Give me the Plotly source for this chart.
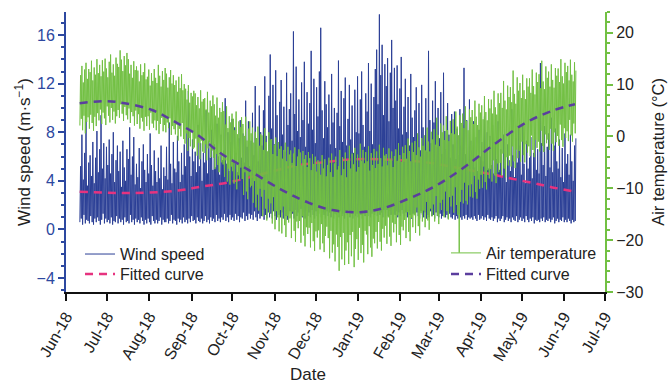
import pandas as pd
import plotly.graph_objects as go

# ---------------- data ----------------
# Wind speed (m/s): alternating low/high readings every 12 h from 2018-06-11, one line per week
wind_text = """
0.6 5.2 0.9 7.8 0.4 4.1 1.2 6.3 0.5 8.9 0.8 3.6 0.7 5.5
0.5 6.1 1.1 4.4 0.6 7.2 0.4 3.8 0.9 5.9 0.6 8.1 1.0 4.7
0.7 6.6 0.4 9.4 0.8 5.0 1.3 7.1 0.5 4.2 0.9 6.8 0.6 5.3
0.8 7.4 0.5 4.6 1.0 6.2 0.4 8.0 0.7 3.9 0.6 5.7 1.1 6.9
0.5 4.8 0.9 6.4 0.6 3.5 0.8 7.3 0.4 5.1 1.0 4.0 0.6 6.6
0.7 5.8 0.5 8.4 1.2 4.5 0.6 6.0 0.8 7.6 0.4 3.7 0.9 5.4
0.6 4.3 0.8 6.7 0.5 3.4 1.0 5.6 0.7 7.0 0.4 4.9 0.8 3.9
0.5 6.2 0.9 4.6 0.6 7.9 0.4 5.3 1.1 3.6 0.7 6.5 0.5 4.8
0.8 3.9 0.5 5.9 0.7 4.2 1.0 6.9 0.4 3.3 0.8 5.1 0.6 4.4
0.6 6.8 0.9 4.1 0.5 8.8 0.7 5.4 1.2 3.8 0.5 7.2 0.8 5.0
0.7 4.7 0.4 7.7 0.9 5.6 0.6 3.9 0.8 6.3 0.5 4.5 1.0 7.0
0.6 5.2 0.8 8.1 0.5 11.4 0.9 6.0 0.6 4.4 1.1 7.4 0.7 5.6
0.8 6.4 0.5 4.7 1.0 8.6 0.7 5.2 0.6 7.1 0.9 4.0 0.5 6.3
0.7 5.5 1.1 9.8 0.6 4.6 0.8 7.3 0.5 5.9 1.0 8.2 0.7 4.9
0.9 7.0 0.6 5.1 1.2 8.7 0.7 6.0 0.9 4.5 0.6 7.8 1.0 5.7
0.8 6.5 1.3 10.8 0.7 5.4 1.0 8.0 0.6 4.8 1.2 7.2 0.8 9.1
1.0 5.6 0.7 8.4 1.3 6.3 0.8 4.7 1.1 7.5 0.6 9.0 1.0 5.9
0.9 7.9 1.4 5.5 0.7 10.6 1.1 6.8 0.8 8.9 1.3 5.2 0.9 7.3
1.2 9.6 0.8 6.1 1.5 11.8 1.0 7.4 0.7 5.6 1.3 10.2 0.9 8.0
1.1 6.9 1.6 9.8 0.8 12.6 1.2 7.7 0.9 5.8 1.4 11.0 1.0 14.4
1.3 8.3 0.9 11.9 1.5 7.0 1.1 13.1 0.8 9.4 1.6 6.6 1.2 10.5
1.0 12.3 1.4 7.8 0.9 10.1 1.7 6.4 1.1 12.9 0.8 8.6 1.3 9.9
1.5 11.2 1.0 7.3 1.3 16.3 0.9 9.5 1.6 13.4 1.1 8.1 1.4 10.7
1.2 7.6 1.7 12.1 1.0 9.0 1.4 13.8 0.9 6.8 1.5 11.3 1.1 8.7
1.4 10.4 1.0 14.7 1.6 8.2 1.2 12.4 0.9 7.1 1.5 11.7 1.1 9.3
1.3 13.0 1.7 16.6 1.0 9.8 1.4 7.5 1.2 12.2 0.9 10.3 1.5 8.4
1.1 11.1 1.4 7.0 1.0 12.8 1.6 8.8 0.9 10.0 1.3 6.7 1.2 9.6
1.4 13.9 1.0 8.5 1.5 11.4 1.1 7.2 1.3 10.8 0.9 12.5 1.5 6.9
1.2 9.1 1.6 11.9 1.0 7.4 1.3 10.2 0.9 6.3 1.4 11.5 1.1 8.0
1.3 12.6 1.0 7.9 1.5 10.7 1.2 13.0 0.9 8.6 1.6 6.8 1.1 11.2
1.4 9.7 1.1 13.7 1.6 8.1 1.0 12.0 1.3 7.0 1.5 10.9 1.2 13.2
1.5 14.8 1.1 10.3 1.7 17.7 1.2 12.7 1.4 15.2 1.0 9.4 1.6 13.6
1.3 11.8 1.6 14.1 1.1 8.9 1.5 12.9 1.2 15.6 1.7 10.0 1.3 13.3
1.2 10.6 1.5 13.5 1.0 8.3 1.4 11.6 1.1 14.2 1.6 7.8 1.3 10.1
1.1 12.4 1.4 8.0 1.0 10.9 1.5 6.9 1.2 12.8 0.9 9.2 1.3 7.6
1.3 9.8 1.0 11.7 1.4 7.3 1.1 10.4 0.9 6.5 1.5 11.9 1.2 8.4
1.0 7.7 1.4 10.8 0.9 6.4 1.2 14.7 1.0 9.0 1.5 7.1 1.1 10.6
1.2 8.8 0.9 12.2 1.4 6.8 1.1 10.0 1.0 7.5 1.3 11.3 0.9 6.2
1.1 12.9 1.4 8.1 1.0 6.6 1.2 10.4 0.9 7.8 1.3 5.9 1.0 9.5
0.9 7.0 1.2 9.7 0.8 5.8 1.1 8.3 0.9 6.1 1.3 9.9 1.0 6.9
0.8 8.6 1.1 13.3 0.9 6.2 1.2 9.0 0.8 5.4 1.0 10.7 0.9 7.3
1.0 6.5 0.8 8.9 1.1 5.1 0.9 7.6 0.7 4.8 1.2 8.2 0.8 6.0
0.9 7.2 1.1 5.6 0.8 9.3 1.0 6.4 0.7 8.0 1.2 5.0 0.9 7.7
0.8 5.3 1.0 8.6 0.7 4.6 0.9 7.1 1.1 5.8 0.6 8.9 0.9 4.9
0.7 6.6 0.9 4.4 1.1 7.8 0.6 5.2 0.8 3.9 1.0 7.0 0.7 5.7
0.9 4.8 0.6 9.9 1.0 6.1 0.8 4.3 0.7 7.5 1.1 5.5 0.6 8.3
0.8 6.9 1.0 4.5 0.7 8.7 0.9 5.4 0.6 3.8 1.1 7.3 0.8 5.0
0.6 5.9 0.9 7.6 0.7 4.2 1.0 6.3 0.5 8.0 0.8 4.9 0.7 6.6
0.8 4.6 0.6 13.7 0.9 7.1 0.7 5.3 1.0 8.5 0.6 4.4 0.8 6.8
0.7 7.9 0.9 5.1 0.6 9.2 0.8 4.7 1.0 6.9 0.5 8.3 0.7 5.6
0.9 5.0 0.6 7.4 0.8 4.3 0.7 6.7 1.0 3.9 0.6 7.9 0.8 5.4
0.6 6.2 0.9 4.5 0.7 7.8 0.5 5.6 0.8 4.0 0.6 6.9 0.7 7.5
"""

# Air temperature (deg C): alternating daily min/max every 12 h from 2018-06-11, one line per week
temp_text = """
2.1 11.8 3.4 13.6 1.2 10.4 4.0 12.9 0.6 14.2 2.8 11.1 3.7 13.0
1.5 12.4 4.2 14.6 2.6 10.8 1.1 13.3 3.8 11.9 2.0 14.9 4.5 12.2
3.1 13.8 5.2 11.6 2.4 14.7 4.6 12.5 3.5 15.0 2.2 13.1 5.8 11.4
4.0 14.4 2.7 15.8 5.5 12.3 3.2 13.9 4.8 11.7 2.5 15.2 3.9 14.0
5.1 13.4 3.6 16.6 6.2 14.8 4.4 12.6 3.0 15.5 5.7 13.7 4.1 16.1
3.3 14.9 5.4 12.1 2.6 13.8 4.7 11.3 3.9 14.5 2.1 12.8 5.0 13.5
2.4 12.7 4.3 10.6 1.5 13.9 3.6 11.8 2.9 12.4 1.1 14.1 3.8 11.0
2.0 11.5 3.9 12.9 1.3 9.8 4.6 12.2 2.5 10.7 1.7 13.0 3.1 11.3
1.2 10.3 3.0 13.8 0.5 11.7 2.4 9.6 3.6 12.6 1.0 10.9 2.2 13.2
0.8 12.1 2.7 9.4 1.6 11.4 3.5 12.8 0.3 10.2 2.0 11.8 1.4 9.9
0.4 10.8 2.3 8.6 -0.8 11.5 1.5 9.3 0.0 12.0 2.6 8.9 -0.5 10.1
-1.4 9.2 0.6 7.1 -2.8 9.9 -0.3 6.5 -1.9 8.4 0.9 7.7 -2.4 8.8
-2.1 8.3 -0.4 6.0 -3.7 7.6 -1.2 5.4 -4.4 8.9 -0.8 6.7 -2.9 7.2
-3.2 7.4 -1.5 5.2 -4.6 8.6 -2.3 4.6 -1.1 6.9 -4.0 5.8 -2.7 7.9
-4.1 6.2 -6.3 4.0 -3.4 7.5 -5.5 3.6 -6.9 5.5 -3.8 4.7 -5.0 6.6
-5.4 4.9 -7.8 2.3 -4.6 5.8 -8.7 1.6 -6.2 3.9 -9.3 2.7 -5.8 4.4
-6.7 3.4 -9.1 1.2 -5.3 4.8 -10.2 0.4 -7.5 2.9 -8.4 1.8 -6.0 3.7
-8.2 2.4 -11.3 0.1 -6.9 3.8 -10.6 -0.8 -12.1 1.5 -7.6 2.9 -9.8 0.6
-9.5 1.7 -12.8 -1.2 -8.6 0.9 -13.7 -0.3 -11.2 1.9 -14.3 -1.8 -10.1 0.5
-11.6 0.2 -15.4 -2.6 -10.3 1.6 -13.9 -1.1 -16.2 -2.9 -12.0 0.8 -14.7 -0.6
-12.9 -0.5 -16.8 -3.4 -11.7 -1.6 -17.9 -0.2 -14.4 -3.8 -15.6 -1.1 -18.3 -2.4
-14.2 -1.9 -18.7 -4.3 -13.5 -2.6 -17.1 -1.2 -19.4 -4.8 -15.3 -2.0 -16.6 -3.5
-15.8 -2.7 -19.6 -5.1 -14.5 -3.3 -18.2 -2.1 -20.3 -5.7 -16.4 -3.9 -17.7 -2.5
-16.3 -3.1 -20.5 -5.6 -15.4 -2.8 -19.1 -4.4 -21.2 -3.6 -17.5 -5.9 -18.8 -3.0
-17.6 -4.2 -21.4 -6.5 -16.7 -3.4 -20.2 -5.3 -22.1 -3.9 -18.3 -6.8 -19.5 -4.6
-18.1 -5.0 -21.8 -7.4 -16.9 -3.6 -20.6 -6.2 -22.3 -4.4 -19.2 -7.7 -17.4 -5.5
-19.6 -4.1 -23.5 -6.9 -18.2 -3.3 -22.4 -7.8 -20.8 -5.2 -24.1 -3.9 -18.9 -6.4
-21.3 -5.7 -25.9 -2.6 -19.4 -7.5 -23.7 -4.0 -18.6 -6.3 -24.8 -3.1 -22.0 -7.9
-20.4 -4.6 -24.6 -1.8 -19.0 -6.2 -23.1 -3.3 -18.4 -5.4 -25.2 -2.2 -21.7 -6.8
-19.8 -3.5 -23.8 -5.9 -17.6 -1.4 -22.5 -4.7 -20.9 -2.6 -24.3 -5.2 -18.2 -3.0
-18.9 -4.8 -22.7 -1.9 -17.3 -6.6 -21.4 -3.2 -23.2 -5.5 -19.7 -2.4 -20.6 -6.1
-18.4 -2.9 -21.6 -5.3 -16.5 -1.6 -20.3 -4.2 -22.0 -5.8 -17.8 -2.2 -19.5 -3.7
-17.2 -3.4 -20.7 -5.6 -15.6 -2.3 -19.3 -4.5 -21.1 -2.9 -16.6 -5.9 -18.5 -3.8
-16.9 -2.5 -20.4 -4.7 -15.2 -1.3 -19.0 -3.6 -20.9 -4.9 -17.4 -2.0 -18.1 -3.2
-16.1 -1.7 -19.6 -4.3 -14.6 -0.4 -18.4 -2.8 -20.2 -4.8 -15.7 -1.2 -17.5 -3.0
-15.2 -0.9 -18.6 -3.6 -13.7 0.6 -17.3 -2.1 -19.1 -3.9 -14.8 -0.3 -16.4 -1.8
-14.3 0.2 -17.5 -2.7 -12.6 1.7 -16.2 -1.0 -18.0 -2.9 -13.9 0.9 -15.4 -0.6
-13.1 1.4 -16.4 -1.6 -11.5 3.6 -15.3 0.3 -16.9 -1.9 -12.8 2.5 -14.2 0.8
-12.2 2.1 -15.6 -0.7 -10.6 3.9 -14.4 1.2 -16.0 -0.9 -11.7 3.0 -13.5 0.6
-11.4 3.3 -14.7 0.4 -9.8 4.8 -13.2 1.9 -15.1 0.2 -22.4 4.1 -12.6 2.6
-10.3 4.4 -12.9 1.6 -8.9 5.8 -12.4 3.0 -13.1 1.2 -9.4 5.2 -11.6 3.7
-9.2 5.1 -11.8 2.4 -7.6 6.9 -10.7 3.8 -12.0 2.2 -8.3 6.3 -10.1 4.6
-7.4 6.0 -9.9 3.3 -5.8 7.8 -8.8 4.7 -10.2 3.1 -6.5 7.2 -8.1 5.4
-6.3 7.1 -8.7 4.4 -4.6 8.8 -7.5 5.6 -9.0 4.2 -5.2 8.3 -6.9 6.4
-5.1 8.4 -7.6 5.5 -3.3 10.7 -6.2 6.9 -7.9 5.2 -4.0 9.8 -5.6 7.6
-3.7 9.5 -5.8 6.6 -1.9 12.7 -4.8 8.2 -6.1 6.3 -2.5 11.4 -4.2 8.8
-2.8 10.3 -4.9 7.4 -1.0 11.9 -3.6 8.9 -5.0 7.2 -1.5 11.2 -3.1 9.6
-1.9 11.2 -3.8 8.4 0.2 12.9 -2.6 9.7 -4.0 8.1 -0.6 12.3 -2.2 10.5
-1.0 12.0 -2.9 9.3 1.1 14.6 -1.8 10.6 -3.0 9.1 0.4 13.5 -1.3 11.3
-0.6 12.5 -2.6 9.6 1.5 13.9 -1.4 10.9 -2.8 9.4 0.8 13.2 -1.1 11.7
0.1 13.1 -1.8 10.5 2.3 14.9 -0.7 11.6 -2.0 10.2 1.6 14.2 -0.3 12.4
1.0 13.6 -0.9 10.8 3.2 14.8 0.2 11.9 -1.0 10.6 2.5 14.3 0.6 12.7
"""

wind_speed = [float(v) for v in wind_text.split()]
air_temp = [float(v) for v in temp_text.split()]
obs_time = pd.date_range("2018-06-11 04:00", periods=len(wind_speed), freq="12h")

# Fitted curves, points
wind_fit_dates = ["2018-06-11", "2018-07-20", "2018-08-22", "2018-09-07", "2018-09-29",
                  "2018-11-19", "2018-12-09", "2018-12-19", "2019-01-07", "2019-02-01",
                  "2019-02-18", "2019-04-06", "2019-04-23", "2019-05-10", "2019-05-22", "2019-06-09"]
wind_fit_vals = [3.1, 3.0, 3.2, 3.5, 3.9, 5.3, 5.55, 5.7, 5.8, 5.7, 5.55, 4.6, 4.2, 3.8, 3.5, 3.1]

temp_fit_dates = ["2018-06-11", "2018-06-30", "2018-07-14", "2018-08-03", "2018-08-20",
                  "2018-09-07", "2018-09-21", "2018-10-13", "2018-11-06", "2018-11-26",
                  "2018-12-13", "2019-01-03", "2019-01-20", "2019-02-08", "2019-02-25",
                  "2019-03-17", "2019-04-13", "2019-05-05", "2019-05-25", "2019-06-09"]
temp_fit_vals = [6.4, 6.8, 6.4, 5.1, 2.8, 0.0, -3.0, -6.5, -10.3, -12.8,
                 -14.2, -14.6, -13.8, -11.9, -9.8, -6.5, -1.1, 2.8, 5.1, 6.2]

# ---------------- styling ----------------
FONT = "Liberation Sans, Arial, sans-serif"
BLUE = "#2b3f96"
AXBLUE = "#2d48a0"
GREEN = "#72c043"
PINK = "#e6337f"
PURPLE = "#5b3e9e"

fig = go.Figure()
fig.add_trace(go.Scatter(x=obs_time, y=wind_speed, mode="lines", name="Wind speed",
                         line=dict(color=BLUE, width=1), yaxis="y", legend="legend"))
fig.add_trace(go.Scatter(x=pd.to_datetime(wind_fit_dates), y=wind_fit_vals, mode="lines",
                         name="Fitted curve", line=dict(color=PINK, width=2.5, dash="8px,6px",
                                                        shape="spline"),
                         yaxis="y", legend="legend3"))
fig.add_trace(go.Scatter(x=obs_time, y=air_temp, mode="lines", name="Air temperature",
                         line=dict(color=GREEN, width=1), yaxis="y2", legend="legend2"))
fig.add_trace(go.Scatter(x=pd.to_datetime(temp_fit_dates), y=temp_fit_vals, mode="lines",
                         name="Fitted curve", line=dict(color=PURPLE, width=2.5, dash="8px,6px",
                                                        shape="spline"),
                         yaxis="y2", legend="legend4"))

legend_common = dict(xanchor="left", yanchor="top", bgcolor="rgba(0,0,0,0)",
                     font=dict(size=16, color="#222"))

fig.update_layout(
    width=669, height=384,
    margin=dict(l=66, r=64, t=12, b=92, autoexpand=False),
    paper_bgcolor="white", plot_bgcolor="white",
    font=dict(family=FONT, size=16, color="#222"),
    xaxis=dict(
        type="date", range=["2018-06-01", "2019-07-01"], dtick="M1",
        tick0="2018-06-01", tickformat="%b-%y", tickangle=-60, automargin=False,
        showline=True, linecolor="#111", linewidth=2,
        ticks="outside", ticklen=7, tickwidth=2, tickcolor="#111",
        tickfont=dict(size=16, color="#222"), showgrid=False, zeroline=False,
    ),
    yaxis=dict(
        range=[-5.15, 17.9], tickvals=[-4, 0, 4, 8, 12, 16], automargin=False,
        showline=True, linecolor=AXBLUE, linewidth=2,
        ticks="outside", ticklen=6, tickwidth=2, tickcolor=AXBLUE,
        minor=dict(dtick=1, tick0=0, ticks="outside", ticklen=3, tickwidth=1.5, tickcolor=AXBLUE),
        tickfont=dict(size=16, color=AXBLUE), showgrid=False, zeroline=False,
    ),
    yaxis2=dict(
        range=[-30, 24], tickvals=[-30, -20, -10, 0, 10, 20], overlaying="y", side="right",
        automargin=False,
        showline=True, linecolor=GREEN, linewidth=2,
        ticks="outside", ticklen=6, tickwidth=2, tickcolor=GREEN,
        minor=dict(dtick=2, tick0=0, ticks="outside", ticklen=3, tickwidth=1.5, tickcolor=GREEN),
        tickfont=dict(size=16, color="#222"), showgrid=False, zeroline=False,
    ),
    legend=dict(x=0.026, y=0.196, **legend_common),
    legend3=dict(x=0.026, y=0.125, **legend_common),
    legend2=dict(x=0.705, y=0.2, **legend_common),
    legend4=dict(x=0.705, y=0.125, **legend_common),
    showlegend=True,
    annotations=[
        dict(text="Date", xref="paper", yref="paper", x=0.449, y=-0.296,
             xanchor="center", yanchor="middle", showarrow=False,
             font=dict(size=17, color="#222")),
        dict(text="Wind speed (m·s<sup>−1</sup>)", xref="paper", yref="paper", x=-0.08, y=0.5,
             xanchor="center", yanchor="middle", textangle=-90, showarrow=False,
             font=dict(size=17, color="#222")),
        dict(text="Air temperature (°C)", xref="paper", yref="paper", x=1.098, y=0.5,
             xanchor="center", yanchor="middle", textangle=-90, showarrow=False,
             font=dict(size=16.5, color="#222")),
    ],
)

fig.write_html("out.html", config={"displayModeBar": False},
               post_script="document.body.style.margin='0px';")
